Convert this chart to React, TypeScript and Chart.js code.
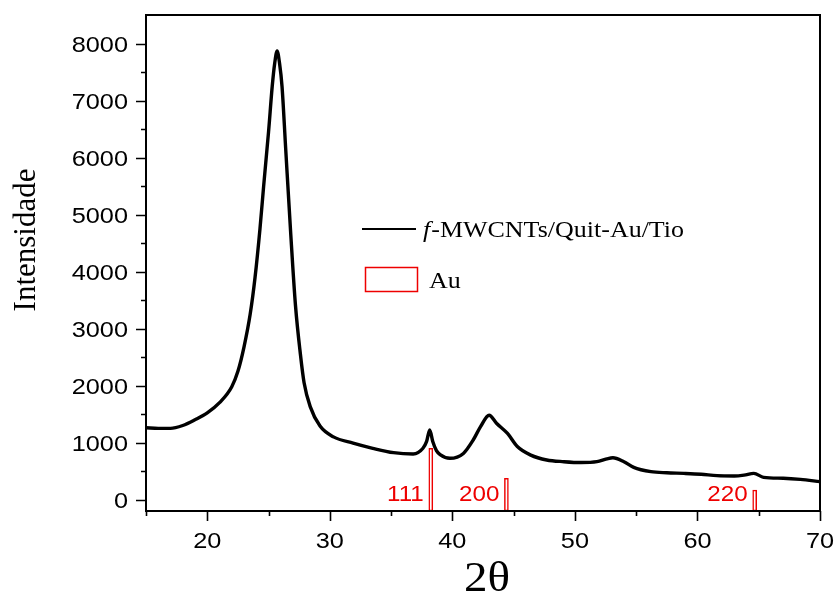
import React, { useEffect, useRef } from "react";
import { Chart, registerables } from "chart.js";
Chart.register(...registerables);

const twoTheta = [15, 16, 17, 18, 19, 20, 21, 22, 22.5, 23, 23.5, 23.9, 24.3, 24.6, 25.0, 25.3, 25.5, 25.7, 25.9, 26.1, 26.4, 26.8, 27.2, 27.6, 27.9, 28.4, 29.2, 30.3, 31.9, 33.5, 35.2, 36.8, 37.6, 37.9, 38.15, 38.4, 38.7, 39.0, 39.8, 40.9, 41.7, 42.3, 43.0, 43.6, 44.5, 45.3, 46.4, 47.7, 49.1, 50.5, 51.8, 52.6, 53.1, 54.0, 54.8, 56.2, 57.5, 58.9, 60.3, 61.6, 63.0, 63.8, 64.6, 65.4, 67.0, 68.4, 70];
const intensity = [1260, 1250, 1250, 1300, 1400, 1520, 1700, 1980, 2250, 2680, 3250, 3900, 4750, 5500, 6450, 7250, 7650, 7870, 7650, 7250, 6150, 4700, 3400, 2550, 2050, 1630, 1290, 1100, 990, 900, 823, 800, 900, 1020, 1220, 1020, 860, 790, 725, 810, 1045, 1280, 1480, 1340, 1160, 930, 780, 695, 665, 650, 665, 715, 735, 665, 565, 490, 470, 460, 445, 420, 415, 430, 460, 390, 375, 355, 315];

const auPositions = [38.24, 44.41, 64.67];
const auHeights = [900, 373, 168];
const auLabels = ["111", "200", "220"];

const xMajorTicks = [20, 30, 40, 50, 60, 70];
const xMinorTicks = [15, 25, 35, 45, 55, 65];
const yMajorTicks = [0, 1000, 2000, 3000, 4000, 5000, 6000, 7000, 8000];
const yMinorTicks = [500, 1500, 2500, 3500, 4500, 5500, 6500, 7500];

const X_MIN = 15;
const X_MAX = 70;
const Y_MIN = -200;
const Y_MAX = 8500;

const seriesLabel = "-MWCNTs/Quit-Au/Tio";
const xTitle = "2θ";
const yTitle = "Intensidade";

const RED = "#ee0000";
const SANS = "\"Liberation Sans\"";
const SERIF = "\"Liberation Serif\"";

function txt(ctx: CanvasRenderingContext2D, s: string, x: number, y: number, font: string, align: CanvasTextAlign, sx: number, color = "#000") {
  ctx.save();
  ctx.font = font;
  ctx.fillStyle = color;
  ctx.textBaseline = "alphabetic";
  ctx.translate(x, y);
  ctx.scale(sx, 1);
  ctx.textAlign = align;
  ctx.fillText(s, 0, 0);
  ctx.restore();
}

const decorPlugin = {
  id: "decor",
  afterDraw(chart: any) {
    const ctx: CanvasRenderingContext2D = chart.ctx;
    const { left, right, top, bottom } = chart.chartArea;
    const xs = chart.scales.x;
    const ys = chart.scales.y;
    ctx.save();
    ctx.strokeStyle = "#000";
    ctx.lineWidth = 2;
    ctx.strokeRect(left, top, right - left, bottom - top);
    ctx.lineWidth = 1.6;
    ctx.beginPath();
    for (const v of yMajorTicks) {
      const p = Math.round(ys.getPixelForValue(v)) + 0.5;
      ctx.moveTo(left - 10, p);
      ctx.lineTo(left, p);
    }
    for (const v of yMinorTicks) {
      const p = Math.round(ys.getPixelForValue(v)) + 0.5;
      ctx.moveTo(left - 5, p);
      ctx.lineTo(left, p);
    }
    for (const v of xMajorTicks) {
      const p = Math.round(xs.getPixelForValue(v)) + 0.5;
      ctx.moveTo(p, bottom);
      ctx.lineTo(p, bottom + 10);
    }
    for (const v of xMinorTicks) {
      const p = Math.round(xs.getPixelForValue(v)) + 0.5;
      ctx.moveTo(p, bottom);
      ctx.lineTo(p, bottom + 5);
    }
    ctx.stroke();

    for (const v of yMajorTicks) {
      const p = ys.getPixelForValue(v);
      txt(ctx, String(v), left - 18, p + 8, `22px ${SANS}`, "right", 1.15);
    }
    for (const v of xMajorTicks) {
      const p = xs.getPixelForValue(v);
      txt(ctx, String(v), p, bottom + 37, `22px ${SANS}`, "center", 1.15);
    }

    // axis titles
    txt(ctx, xTitle, (left + right) / 2 + 4, 591, `42px ${SERIF}`, "center", 1.12);
    ctx.save();
    ctx.translate(35, 240);
    ctx.rotate(-Math.PI / 2);
    ctx.font = `31px ${SERIF}`;
    ctx.fillStyle = "#000";
    ctx.textAlign = "center";
    ctx.textBaseline = "alphabetic";
    ctx.fillText(yTitle, 0, 0);
    ctx.restore();

    // bar labels
    auPositions.forEach((x, i) => {
      const p = xs.getPixelForValue(x);
      txt(ctx, auLabels[i], p - 7, 501, `22px ${SANS}`, "right", 1.1, RED);
    });

    // legend
    ctx.lineWidth = 2;
    ctx.strokeStyle = "#000";
    ctx.beginPath();
    ctx.moveTo(362, 229);
    ctx.lineTo(416, 229);
    ctx.stroke();
    txt(ctx, "f", 423, 237, `italic 23px ${SERIF}`, "left", 1.13);
    ctx.save();
    ctx.font = `italic 23px ${SERIF}`;
    const fw = ctx.measureText("f").width * 1.13;
    ctx.restore();
    txt(ctx, seriesLabel, 423 + fw + 1, 237, `23px ${SERIF}`, "left", 1.13);
    ctx.lineWidth = 1.5;
    ctx.strokeStyle = RED;
    ctx.strokeRect(365.5, 267.5, 52, 24);
    txt(ctx, "Au", 429, 288, `23px ${SERIF}`, "left", 1.13);
    ctx.restore();
  },
};

export default function App() {
  const ref = useRef<HTMLCanvasElement | null>(null);
  useEffect(() => {
    document.body.style.margin = "0";
    const canvas = ref.current;
    if (!canvas) return;
    const chart = new Chart(canvas, {
      type: "line",
      data: {
        datasets: [
          {
            type: "line",
            data: twoTheta.map((x, i) => ({ x, y: intensity[i] })),
            borderColor: "#000",
            borderWidth: 3.4,
            pointRadius: 0,
            cubicInterpolationMode: "monotone",
            fill: false,
          } as any,
          {
            type: "bar",
            data: auPositions.map((x, i) => ({ x, y: [Y_MIN, auHeights[i]] })),
            backgroundColor: "#fff",
            borderColor: RED,
            borderWidth: 1.5,
            barThickness: 4,
            borderSkipped: false,
            grouped: false,
          } as any,
        ],
      },
      options: {
        responsive: false,
        animation: false,
        events: [],
        layout: { padding: { left: 146, right: 16, top: 15, bottom: 84 } },
        plugins: { legend: { display: false }, tooltip: { enabled: false } },
        scales: {
          x: { type: "linear", min: X_MIN, max: X_MAX, display: false, offset: false },
          y: { type: "linear", min: Y_MIN, max: Y_MAX, display: false },
        },
      },
      plugins: [decorPlugin],
    });
    return () => chart.destroy();
  }, []);
  return (
    <div style={{ position: "fixed", left: 0, top: 0, width: 836, height: 595, background: "#fff" }}>
      <canvas ref={ref} width={836} height={595} />
    </div>
  );
}
